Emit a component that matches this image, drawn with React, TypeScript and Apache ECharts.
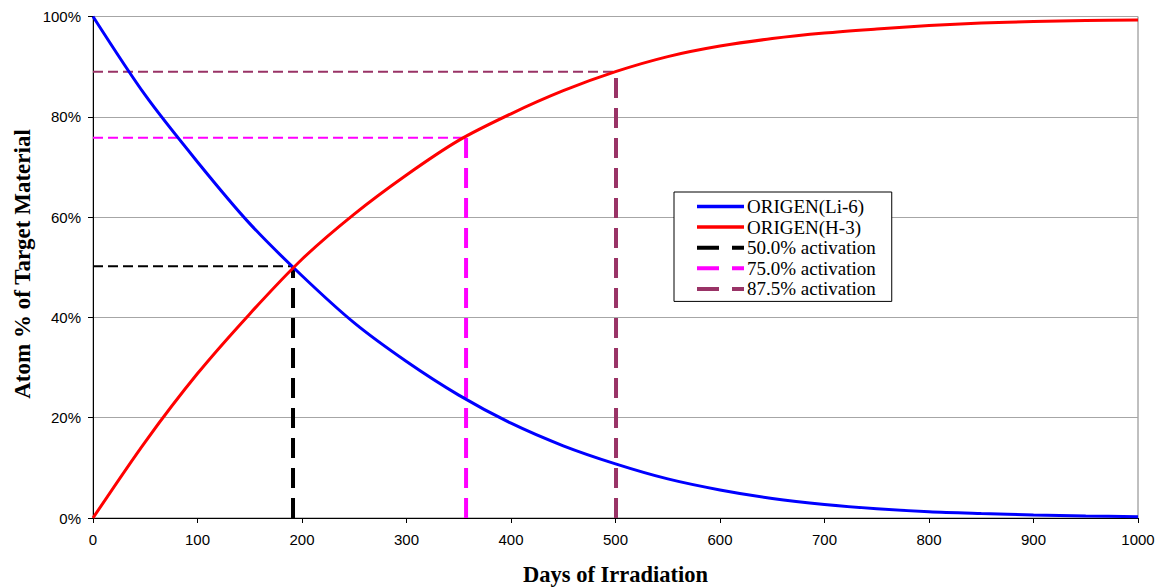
import React, { useEffect, useRef } from "react";
import * as echarts from "echarts";

const days = [0, 50, 100, 150, 200, 250, 300, 350, 400, 450, 500, 550, 600, 650, 700, 750, 800, 850, 900, 950, 1000];
const li6 = [100, 84.3, 71.0, 58.7, 48.3, 38.9, 31.2, 24.5, 18.9, 14.4, 10.8, 7.8, 5.6, 3.9, 2.7, 1.85, 1.26, 0.9, 0.6, 0.4, 0.26];
const h3 = [0, 15.2, 28.8, 40.7, 51.6, 60.6, 68.4, 75.3, 80.6, 85.2, 89.0, 92.0, 94.1, 95.6, 96.7, 97.5, 98.2, 98.7, 99.0, 99.2, 99.3];

const activationNames = ["50.0% activation", "75.0% activation", "87.5% activation"];
const activationDays = [191.4, 357, 500.5];
const activationLevels = [50.2, 75.8, 89.0];
const activationColors = ["#000000", "#ff00ff", "#993366"];

const yTicks = [0, 20, 40, 60, 80, 100];

export default function App() {
  const ref = useRef<HTMLDivElement>(null);
  useEffect(() => {
    document.body.style.margin = "0";
    const chart = echarts.init(ref.current!, null, { renderer: "svg" });
    const series: any[] = [];
    activationNames.forEach((name, i) => {
      series.push({
        name: name + " level",
        type: "line",
        data: [[0, activationLevels[i]], [activationDays[i], activationLevels[i]]],
        symbol: "none",
        lineStyle: { color: activationColors[i], width: 2, type: [10, 5] },
        itemStyle: { color: activationColors[i] },
        z: 1,
      });
      series.push({
        name,
        type: "line",
        data: [[activationDays[i], 0], [activationDays[i], activationLevels[i]]],
        symbol: "none",
        lineStyle: { color: activationColors[i], width: 4, type: [20, 10] },
        itemStyle: { color: activationColors[i] },
        z: 1,
      });
    });
    series.unshift(
      {
        name: "ORIGEN(Li-6)",
        type: "line",
        data: days.map((d, i) => [d, li6[i]]),
        symbol: "none",
        smooth: 0.3,
        lineStyle: { color: "#0000ff", width: 3 },
        itemStyle: { color: "#0000ff" },
        z: 3,
      },
      {
        name: "ORIGEN(H-3)",
        type: "line",
        data: days.map((d, i) => [d, h3[i]]),
        symbol: "none",
        smooth: 0.3,
        lineStyle: { color: "#ff0000", width: 3 },
        itemStyle: { color: "#ff0000" },
        z: 3,
      }
    );
    const legendData = [
      { name: "ORIGEN(Li-6)", lineStyle: { color: "#0000ff", width: 3.5, type: "solid" } },
      { name: "ORIGEN(H-3)", lineStyle: { color: "#ff0000", width: 3.5, type: "solid" } },
      ...activationNames.map((n, i) => ({
        name: n,
        lineStyle: { color: activationColors[i], width: 4, type: [22, 13] },
      })),
    ];
    chart.setOption({
      animation: false,
      grid: { left: 93, right: 24, top: 16.5, bottom: 69, show: true, borderColor: "#808080", borderWidth: 1 },
      xAxis: {
        type: "value",
        min: 0,
        max: 1000,
        interval: 100,
        axisLine: { show: true, onZero: false, lineStyle: { color: "#000", width: 1 } },
        axisTick: { show: true, inside: false, length: 5, lineStyle: { color: "#000" } },
        axisLabel: { color: "#000", fontFamily: "Liberation Sans", fontSize: 15, margin: 14, formatter: (v: number) => String(v) },
        splitLine: { show: false },
      },
      yAxis: {
        type: "value",
        min: yTicks[0],
        max: yTicks[yTicks.length - 1],
        interval: 20,
        axisLine: { show: true, lineStyle: { color: "#000", width: 1 } },
        axisTick: { show: true, inside: false, length: 5, lineStyle: { color: "#000" } },
        axisLabel: { color: "#000", fontFamily: "Liberation Sans", fontSize: 15, margin: 12, formatter: "{value}%" },
        splitLine: { show: true, lineStyle: { color: "#a6a6a6", width: 1 } },
      },
      legend: {
        data: legendData,
        orient: "vertical",
        left: 674,
        top: 192,
        padding: [5, 16, 3, 21],
        itemGap: 1.6,
        itemWidth: 47,
        itemHeight: 15,
        borderColor: "#000",
        borderWidth: 1,
        backgroundColor: "#fff",
        itemStyle: { opacity: 0 },
        textStyle: { color: "#000", fontFamily: "Liberation Serif", fontSize: 19, lineHeight: 19, padding: [0, 0, 0, -2] },
      },
      graphic: [
        {
          type: "text",
          x: 615.5,
          y: 574,
          style: {
            text: "Days of Irradiation",
            fontFamily: "Liberation Serif",
            fontWeight: "bold",
            fontSize: 22.5,
            fill: "#000",
            align: "center",
            verticalAlign: "middle",
          },
        },
        {
          type: "text",
          x: 22.5,
          y: 264,
          rotation: Math.PI / 2,
          style: {
            text: "Atom % of Target Material",
            fontFamily: "Liberation Serif",
            fontWeight: "bold",
            fontSize: 23,
            fill: "#000",
            align: "center",
            verticalAlign: "middle",
          },
        },
      ],
      series,
    });
    return () => chart.dispose();
  }, []);
  return <div ref={ref} style={{ width: 1162, height: 587 }} />;
}
